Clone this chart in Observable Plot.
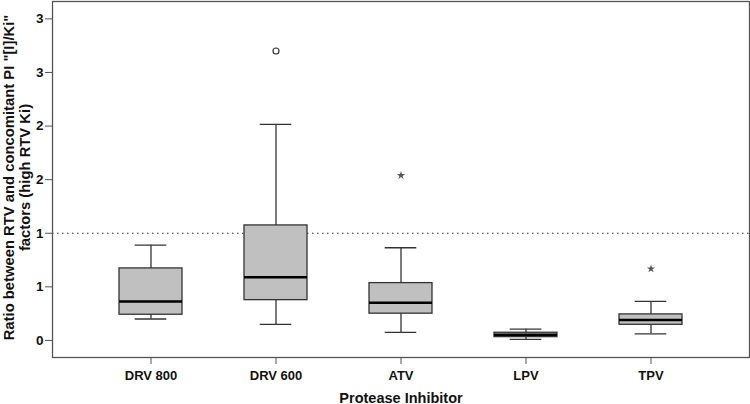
<!DOCTYPE html>
<html>
<head>
<meta charset="utf-8">
<script src="https://cdn.jsdelivr.net/npm/d3@7"></script>
<script src="https://cdn.jsdelivr.net/npm/@observablehq/plot@0.6"></script>
<style>
  html, body { margin: 0; padding: 0; background: #fff; }
  #chart svg { display: block; }
</style>
</head>
<body>
<div id="chart"></div>
<script>
const categories = ["DRV 800", "DRV 600", "ATV", "LPV", "TPV"];
const whiskerLow  = [0.20, 0.15, 0.075, 0.010, 0.062];
const q1          = [0.24, 0.376, 0.25, 0.031, 0.146];
const median      = [0.364, 0.59, 0.352, 0.053, 0.19];
const q3          = [0.672, 1.073, 0.535, 0.072, 0.243];
const whiskerHigh = [0.889, 2.015, 0.865, 0.105, 0.364];

const outlierCategory = ["DRV 600", "ATV", "TPV"];
const outlierValue    = [2.70, 1.54, 0.669];
const outlierKind     = ["circle", "star", "star"];

const referenceValue = [1];
const yTicks = [0, 0.5, 1, 1.5, 2, 2.5, 3];
const yTickLabels = ["0", "1", "1", "2", "2", "3", "3"];

const xTitle = "Protease Inhibitor";
const yTitle = "Ratio between RTV and concomitant PI \"[I]/Ki\"\nfactors (high RTV Ki)";

const boxes = categories.map((c, i) => ({
  cat: c, lo: whiskerLow[i], q1: q1[i], med: median[i], q3: q3[i], hi: whiskerHigh[i]
}));
const outliers = outlierCategory.map((c, i) => ({cat: c, v: outlierValue[i], kind: outlierKind[i]}));

const font = "'Liberation Sans', Arial, sans-serif";
const stroke = "#333";

const chart = Plot.plot({
  width: 750,
  height: 404,
  marginLeft: 52,
  marginRight: 1,
  marginTop: 1,
  marginBottom: 47,
  style: {fontFamily: font, background: "#fff", color: "#111"},
  x: {type: "band", domain: categories, paddingInner: 0.5, paddingOuter: 0.527, label: null},
  y: {domain: [-0.159, 3.162], label: null},
  marks: [
    Plot.ruleY(referenceValue, {stroke: "#333", strokeDasharray: "1.5,3.5", strokeWidth: 1.2}),
    Plot.ruleX(boxes, {x: "cat", y1: "lo", y2: "hi", stroke, strokeWidth: 1.3}),
    Plot.tickY(boxes, {x: "cat", y: "lo", stroke, strokeWidth: 1.3, insetLeft: 15.7, insetRight: 15.7}),
    Plot.tickY(boxes, {x: "cat", y: "hi", stroke, strokeWidth: 1.3, insetLeft: 15.7, insetRight: 15.7}),
    Plot.barY(boxes, {x: "cat", y1: "q1", y2: "q3", fill: "#c0c0c0", stroke, strokeWidth: 1.3}),
    Plot.tickY(boxes, {x: "cat", y: "med", stroke: "#000", strokeWidth: 2.5}),
    Plot.dot(outliers.filter(d => d.kind === "circle"), {x: "cat", y: "v", r: 3, symbol: "circle", fill: "#fff", stroke, strokeWidth: 1.2}),
    Plot.dot(outliers.filter(d => d.kind === "star"), {x: "cat", y: "v", r: 2.6, symbol: "star", fill: "#555", stroke: "none"}),
    Plot.frame({stroke: "#555", strokeWidth: 1.3}),
    Plot.axisY({ticks: yTicks, tickFormat: d => yTickLabels[yTicks.indexOf(d)], tickSize: 7, tickPadding: 2,
      fontSize: 13.5, fontWeight: "bold", stroke: "#555", label: null}),
    Plot.axisX({tickSize: 7, tickPadding: 6, fontSize: 13, fontWeight: "bold", stroke: "#555", label: null}),
    Plot.text([xTitle], {frameAnchor: "bottom", dy: 45, lineAnchor: "bottom", fontSize: 14.5, fontWeight: "bold", fill: "#111"}),
    Plot.text([yTitle], {frameAnchor: "left", dx: -36, dy: -2, rotate: -90, textAnchor: "middle", lineAnchor: "middle",
      lineHeight: 1.13, fontSize: 14.8, fontWeight: "bold", fill: "#111"})
  ]
});
document.getElementById("chart").appendChild(chart);
</script>
</body>
</html>
